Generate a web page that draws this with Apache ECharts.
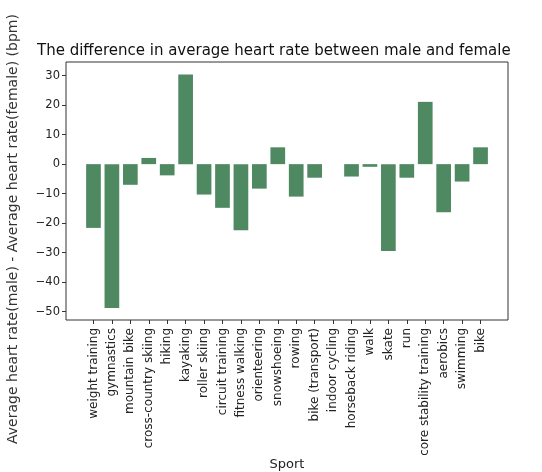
<!DOCTYPE html>
<html>
<head>
<meta charset="utf-8">
<script src="https://cdn.jsdelivr.net/npm/echarts@6/dist/echarts.min.js"></script>
<style>
  html, body { margin: 0; padding: 0; background: #fff; }
  #chart { width: 542px; height: 472px; }
</style>
</head>
<body>
<div id="chart"></div>
<script>
  // sports on the x axis
  const sports = [
    'weight training', 'gymnastics', 'mountain bike', 'cross-country skiing',
    'hiking', 'kayaking', 'roller skiing', 'circuit training', 'fitness walking',
    'orienteering', 'snowshoeing', 'rowing', 'bike (transport)', 'indoor cycling',
    'horseback riding', 'walk', 'skate', 'run', 'core stability training',
    'aerobics', 'swimming', 'bike'
  ];
  // avg heart rate male - female (bpm)
  const diffs = [
    -21.6, -48.7, -7.0, 2.1, -3.8, 30.4, -10.3, -14.8, -22.4, -8.3, 5.7,
    -11.0, -4.6, 0, -4.2, -0.9, -29.4, -4.6, 21.1, -16.3, -5.9, 5.7
  ];
  const yTicks = [-50, -40, -30, -20, -10, 0, 10, 20, 30];

  const font = 'DejaVu Sans';
  const myChart = echarts.init(document.getElementById('chart'));

  const option = {
    animation: false,
    textStyle: { fontFamily: font },
    title: {
      text: 'The difference in average heart rate between male and female',
      left: 32,
      top: 39,
      textStyle: { fontFamily: font, fontSize: 15, fontWeight: 'normal', color: '#111' }
    },
    grid: {
      left: 66, right: 34, top: 62, bottom: 152,
      show: true, borderColor: '#333', borderWidth: 1
    },
    xAxis: {
      type: 'value',
      min: -1.49,
      max: 22.49,
      splitLine: { show: false },
      axisLine: { show: false, onZero: false },
      axisTick: {
        show: true, length: 4,
        customValues: sports.map((s, i) => i),
        lineStyle: { color: '#333' }
      },
      axisLabel: {
        customValues: sports.map((s, i) => i),
        formatter: v => sports[v],
        rotate: 90,
        margin: 8,
        fontSize: 12,
        color: '#222'
      }
    },
    yAxis: {
      type: 'value',
      min: -52.8,
      max: 34.6,
      splitLine: { show: false },
      axisLine: { show: false, onZero: false },
      axisTick: {
        show: true, length: 4,
        customValues: yTicks,
        lineStyle: { color: '#333' }
      },
      axisLabel: {
        customValues: yTicks,
        formatter: v => String(v).replace('-', '\u2212'),
        fontSize: 11.5,
        margin: 6,
        color: '#222'
      }
    },
    graphic: [
      {
        type: 'text',
        x: 13, y: 229,
        rotation: Math.PI / 2,
        style: {
          text: 'Average heart rate(male) - Average heart rate(female) (bpm)',
          fontFamily: font, fontSize: 14, fill: '#333',
          textAlign: 'center', textVerticalAlign: 'middle'
        }
      },
      {
        type: 'text',
        x: 287, y: 465,
        style: {
          text: 'Sport',
          fontFamily: font, fontSize: 13, fill: '#222',
          textAlign: 'center', textVerticalAlign: 'middle'
        }
      }
    ],
    series: [{
      type: 'bar',
      barWidth: 14.7,
      itemStyle: { color: '#4f8961' },
      data: diffs.map((v, i) => [i, v])
    }]
  };
  myChart.setOption(option);
</script>
</body>
</html>
